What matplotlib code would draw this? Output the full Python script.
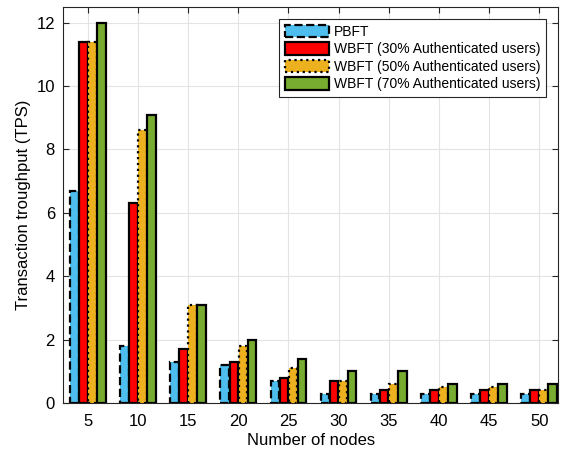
import matplotlib.pyplot as plt
import numpy as np

plt.rcParams['font.family'] = ['Liberation Sans', 'DejaVu Sans']

# Data
nodes = [5, 10, 15, 20, 25, 30, 35, 40, 45, 50]
pbft = [6.7, 1.8, 1.3, 1.2, 0.7, 0.3, 0.3, 0.3, 0.3, 0.3]
wbft30 = [11.4, 6.3, 1.7, 1.3, 0.8, 0.7, 0.4, 0.4, 0.4, 0.4]
wbft50 = [11.4, 8.6, 3.1, 1.8, 1.1, 0.7, 0.6, 0.5, 0.5, 0.4]
wbft70 = [12.0, 9.1, 3.1, 2.0, 1.4, 1.0, 1.0, 0.6, 0.6, 0.6]

labels = ["PBFT",
          "WBFT (30% Authenticated users)",
          "WBFT (50% Authenticated users)",
          "WBFT (70% Authenticated users)"]
colors = ["#4DBEEE", "#FF0000", "#EDB120", "#77AC30"]
styles = ["--", "-", ":", "-"]
series = [pbft, wbft30, wbft50, wbft70]

fig = plt.figure(figsize=(5.65, 4.53), dpi=100)
ax = fig.add_axes([0.112, 0.110, 0.876, 0.875])

x = np.array(nodes, dtype=float)
pitch = 0.9
for i, (vals, lab, col, ls) in enumerate(zip(series, labels, colors, styles)):
    ax.bar(x + (i - 1.5) * pitch, vals, width=0.85, color=col,
           edgecolor="black", linewidth=1.6, linestyle=ls, label=lab, zorder=3)

ax.set_xlim(2.55, 51.9)
ax.set_ylim(0, 12.5)
ax.set_xticks(nodes)
ax.set_yticks([0, 2, 4, 6, 8, 10, 12])
ax.tick_params(direction="in", top=True, right=True, labelsize=12, length=4,
               color="#262626")
ax.tick_params(axis="x", pad=8)
ax.tick_params(axis="y", pad=6)
ax.grid(True, color="#e3e3e3", linewidth=0.8, zorder=0)
for s in ax.spines.values():
    s.set_color("#262626")
    s.set_linewidth(0.8)

ax.set_xlabel("Number of nodes", fontsize=12, labelpad=3)
ax.set_ylabel("Transaction troughput (TPS)", fontsize=12, labelpad=4)

leg = ax.legend(loc="upper right", fontsize=10, fancybox=False,
                framealpha=1, edgecolor="#262626", handlelength=3.2,
                handleheight=1.0, borderaxespad=0.9, labelspacing=0.25,
                handletextpad=0.3)
leg.get_frame().set_linewidth(0.8)

fig.savefig("out.png", dpi=100)
